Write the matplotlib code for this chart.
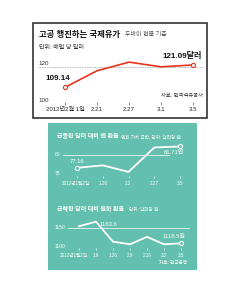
import matplotlib
matplotlib.use("Agg")
import matplotlib.pyplot as plt
import matplotlib.transforms as mtransforms
from matplotlib.patches import Rectangle
from matplotlib import font_manager

names = {f.name for f in font_manager.fontManager.ttflist}
narrow = 'Liberation Sans Narrow' if 'Liberation Sans Narrow' in names else 'Liberation Sans'
plt.rcParams['font.family'] = [narrow, 'Noto Sans CJK KR', 'DejaVu Sans']

# oil price (Dubai spot, $/barrel)
oil_dates = ['2012년2월 1일', '2.21', '2.27', '3.1', '3.5']
oil_vals = [109.14, 118.0, 122.6, 120.1, 121.09]

# yen per dollar
yen_dates = ['2012년1월2일', '1.26', '2.2', '2.27', '3.5']
yen_vals = [77.16, 77.7, 76.3, 81.5, 81.71]

# won per dollar
won_dates = ['2012년1월2일', '1.9', '1.26', '2.9', '2.16', '3.2', '3.5']
won_vals = [1154.0, 1163.6, 1122.0, 1116.5, 1132.0, 1116.5, 1118.5]

W, H = 240, 284
RED = '#e8341c'
TEAL = '#64c0ae'

fig = plt.figure(figsize=(W / 100, H / 100), dpi=100)
fig.patch.set_facecolor('white')


def px_axes(l, t, r, b):
    a = fig.add_axes([l / W, 1 - b / H, (r - l) / W, (b - t) / H])
    a.patch.set_alpha(0)
    a.set_zorder(2)
    for s in a.spines.values():
        s.set_visible(False)
    a.set_yticks([])
    return a


def fx(x):
    return x / W


def fy(y):
    return 1 - y / H


def date_ticks(a, labels, size, color, dx):
    # first label (long date) is drawn by hand so it can sit a bit left
    a.set_xticks(range(len(labels)))
    a.set_xticklabels([''] + labels[1:], fontsize=size, color=color)
    a.annotate(labels[0], (0, 0), xycoords=('data', 'axes fraction'), xytext=(dx, -2),
               textcoords='offset points', ha='center', va='top', fontsize=size, color=color)


# ---- frames ----
fig.patches.append(Rectangle((fx(33), fy(118)), fx(207) - fx(33), fy(23) - fy(118),
                             transform=fig.transFigure, fill=False, ec='#222222', lw=1.1, zorder=-1))
fig.patches.append(Rectangle((fx(48), fy(270)), fx(197) - fx(48), fy(123) - fy(270),
                             transform=fig.transFigure, fc=TEAL, ec='none', zorder=-1))

# ---- top: oil ----
fig.text(fx(39), fy(37), '고공 행진하는 국제유가', fontsize=6, fontweight='bold', color='#111111')
fig.text(fx(125), fy(36.5), '두바이 현물 기준', fontsize=4.3, color='#555555')
fig.text(fx(39), fy(49), '단위: 배럴 당 달러', fontsize=4.3, color='#333333')

ax = px_axes(38, 55, 203, 104.5)
x = range(len(oil_vals))
ax.set_xlim(-0.844, 4.31)
ax.set_ylim(100, 126.4)
ax.axhline(120, color='#999999', lw=0.6, ls=(0, (1, 1)))
ax.axhline(100, color='#999999', lw=0.6, ls=(0, (1, 1)))
ax.plot(x, oil_vals, color=RED, lw=1.2, solid_joinstyle='round')
ax.plot([0, 4], [oil_vals[0], oil_vals[-1]], 'o', ms=3, mfc='white', mec=RED, mew=0.8)
date_ticks(ax, oil_dates, 4.4, '#222222', 0)
ax.tick_params(axis='x', direction='in', length=2, width=0.6, color='#777777', pad=2)
tr = mtransforms.blended_transform_factory(ax.transAxes, ax.transData)
ax.text(0.0, 120.6, '120', transform=tr, fontsize=4.5, color='#333333', va='bottom')
ax.text(0.0, 100.6, '100', transform=tr, fontsize=4.5, color='#333333', va='bottom')
ax.annotate('109.14', (0, oil_vals[0]), xytext=(-5, 4), textcoords='offset points',
            fontsize=5.8, fontweight='bold', ha='center', va='bottom', color='#111111')
ax.annotate('121.09달러', (4, oil_vals[-1]), xytext=(6, 3.5), textcoords='offset points',
            fontsize=5.8, fontweight='bold', ha='right', va='bottom', color='#111111')
ax.text(1.0, 104, '자료: 한국석유공사', transform=tr, fontsize=3.8, color='#333333', ha='right')

# ---- yen ----
fig.text(fx(57), fy(138), '급등한 달러 대비 엔 환율', fontsize=4.3, fontweight='bold', color='white')
fig.text(fx(121), fy(138), '엔화 가치 급락, 단위: 달러당 엔', fontsize=3.3, color='white')

ay = px_axes(63, 140, 195, 178)
x = range(len(yen_vals))
ay.set_xlim(-0.544, 4.58)
ay.set_ylim(75, 83.09)
ay.axhline(80, xmin=0, xmax=0.8, color='#e8f5f2', lw=0.6)
ay.plot(x, yen_vals, color='white', lw=1.3, solid_joinstyle='round')
ay.plot([0, 4], [yen_vals[0], yen_vals[-1]], 'o', ms=3, mfc=TEAL, mec='white', mew=0.8)
date_ticks(ay, yen_dates, 3.3, 'white', -1)
ay.tick_params(axis='x', direction='in', length=1.5, width=0.5, color='white', pad=2)
tr = mtransforms.blended_transform_factory(ay.transAxes, ay.transData)
ay.text(-0.02, 80, '80', transform=tr, fontsize=3.6, color='white', ha='right', va='center')
ay.text(-0.02, 76.0, '75', transform=tr, fontsize=3.6, color='white', ha='right', va='center')
ay.annotate('77.16', (0, yen_vals[0]), xytext=(0, 2.5), textcoords='offset points',
            fontsize=4.2, ha='center', va='bottom', color='white')
ay.annotate('81.71엔', (4, yen_vals[-1]), xytext=(3, -2.5), textcoords='offset points',
            fontsize=4.2, ha='right', va='top', color='white')

# ---- won ----
fig.text(fx(57), fy(211), '급락한 달러 대비 원화 환율', fontsize=4.3, fontweight='bold', color='white')
fig.text(fx(129), fy(211), '단위: 달러당 원', fontsize=3.3, color='white')

aw = px_axes(68, 212, 195, 250)
x = range(len(won_vals))
aw.set_xlim(-(79 - 68) / 17, 6 + (195 - 181) / 17)
aw.set_ylim(1104.6, 1183.8)
aw.axhline(1150, xmin=0, xmax=0.95, color='#e8f5f2', lw=0.6)
aw.plot(x, won_vals, color='white', lw=1.3, solid_joinstyle='round')
aw.plot([6], [won_vals[-1]], 'o', ms=3, mfc=TEAL, mec='white', mew=0.8)
date_ticks(aw, won_dates, 3.3, 'white', -3.5)
aw.tick_params(axis='x', direction='in', length=1.5, width=0.5, color='white', pad=2)
tr = mtransforms.blended_transform_factory(aw.transAxes, aw.transData)
aw.text(-0.02, 1151, '1150', transform=tr, fontsize=3.6, color='white', ha='right', va='center')
aw.text(-0.02, 1111, '1100', transform=tr, fontsize=3.6, color='white', ha='right', va='center')
aw.annotate('1163.6', (1, won_vals[1]), xytext=(2.5, 0), textcoords='offset points',
            fontsize=4.2, ha='left', va='top', color='white')
aw.annotate('1118.5원', (6, won_vals[-1]), xytext=(3, 3), textcoords='offset points',
            fontsize=4.2, ha='right', va='bottom', color='white')
fig.text(fx(187), fy(264), '자료: 한국은행', fontsize=3.3, color='white', ha='right')

fig.savefig('out.png', dpi=100, facecolor='white')
